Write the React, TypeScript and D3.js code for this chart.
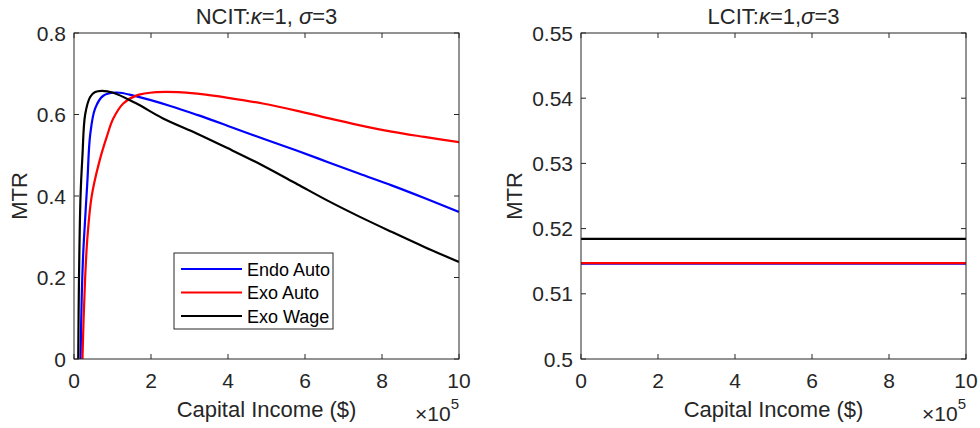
import React from 'react';
import * as d3 from 'd3';

// capital income in units of 1e5 dollars, MTR values
const xTicks = [0, 2, 4, 6, 8, 10];
const ncitTicks = [0, 0.2, 0.4, 0.6, 0.8];
const lcitTicks = [0.5, 0.51, 0.52, 0.53, 0.54, 0.55];

const seriesNames = ['Endo Auto', 'Exo Auto', 'Exo Wage'];
const seriesColors = ['#0000ff', '#ff0000', '#000000'];

const endoAutoNcit: [number, number][] = [
  [0.17, 0], [0.2, 0.15], [0.24, 0.26], [0.3, 0.36], [0.35, 0.44], [0.42, 0.55], [0.55, 0.615],
  [0.76, 0.646], [1.1, 0.654], [1.6, 0.645], [2.5, 0.621], [3.2, 0.599], [4.0, 0.572],
  [4.9, 0.541], [5.8, 0.511], [6.6, 0.483], [7.4, 0.455], [8.25, 0.426], [9.1, 0.395], [10, 0.361],
];
const exoAutoNcit: [number, number][] = [
  [0.22, 0], [0.25, 0.1], [0.29, 0.2], [0.35, 0.3], [0.46, 0.4], [0.66, 0.485],
  [0.85, 0.545], [1.02, 0.59], [1.28, 0.627], [1.63, 0.647], [2.15, 0.655], [2.7, 0.655],
  [3.2, 0.651], [4.0, 0.641], [4.9, 0.627], [5.8, 0.609], [6.6, 0.591], [7.4, 0.574],
  [8.25, 0.558], [9.1, 0.545], [10, 0.532],
];
const exoWageNcit: [number, number][] = [
  [0.11, 0], [0.13, 0.2], [0.17, 0.4], [0.22, 0.5], [0.29, 0.6], [0.42, 0.643], [0.55, 0.655],
  [0.72, 0.658], [1.0, 0.654], [1.6, 0.628], [2.3, 0.591], [3.2, 0.553], [4.0, 0.517],
  [4.9, 0.475], [5.8, 0.429], [6.6, 0.388], [7.4, 0.35], [8.25, 0.312], [9.1, 0.275], [10, 0.238],
];

const endoAutoLcit: [number, number][] = [[0, 0.51464], [10, 0.51464]];
const exoAutoLcit: [number, number][] = [[0, 0.51469], [10, 0.51469]];
const exoWageLcit: [number, number][] = [[0, 0.51843], [10, 0.51843]];

const font = "'Liberation Sans', Arial, Helvetica, sans-serif";
const axisColor = '#262626';

type PanelProps = {
  left: number;
  right: number;
  top: number;
  bottom: number;
  yDomain: [number, number];
  yTicks: number[];
  lines: [number, number][][];
  titleA: string;
  titleB: string;
  titleC: string;
  ylabelX: number;
  legend?: boolean;
};

const Panel = (p: PanelProps) => {
  const x = d3.scaleLinear().domain([0, 10]).range([p.left, p.right]);
  const y = d3.scaleLinear().domain(p.yDomain).range([p.bottom, p.top]);
  const line = d3
    .line<[number, number]>()
    .x((d) => x(d[0]))
    .y((d) => y(d[1]))
    .curve(d3.curveCatmullRom.alpha(0.5));
  const cx = (p.left + p.right) / 2;
  const cy = (p.top + p.bottom) / 2;
  const id = 'clip' + p.left;
  const tl = 5;

  return (
    <g fontFamily={font} fill={axisColor}>
      <defs>
        <clipPath id={id}>
          <rect x={p.left} y={p.top} width={p.right - p.left} height={p.bottom - p.top} />
        </clipPath>
      </defs>
      <g clipPath={`url(#${id})`}>
        {p.lines.map((d, i) => (
          <path key={i} d={line(d) || ''} fill="none" stroke={seriesColors[i]} strokeWidth={2.2} />
        ))}
      </g>
      <rect x={p.left} y={p.top} width={p.right - p.left} height={p.bottom - p.top}
        fill="none" stroke={axisColor} strokeWidth={1} />
      {xTicks.map((t) => (
        <g key={'x' + t}>
          <line x1={x(t)} x2={x(t)} y1={p.bottom} y2={p.bottom - tl} stroke={axisColor} />
          <line x1={x(t)} x2={x(t)} y1={p.top} y2={p.top + tl} stroke={axisColor} />
          <text x={x(t)} y={p.bottom + 29} textAnchor="middle" fontSize={21}>{t}</text>
        </g>
      ))}
      {p.yTicks.map((t) => (
        <g key={'y' + t}>
          <line x1={p.left} x2={p.left + tl} y1={y(t)} y2={y(t)} stroke={axisColor} />
          <line x1={p.right} x2={p.right - tl} y1={y(t)} y2={y(t)} stroke={axisColor} />
          <text x={p.left - 8} y={y(t) + 7.5} textAnchor="end" fontSize={21}>{String(t)}</text>
        </g>
      ))}
      <text x={cx} y={24} textAnchor="middle" fontSize={22}>
        {p.titleA}
        <tspan fontStyle="italic">κ</tspan>
        {p.titleB}
        <tspan fontStyle="italic">σ</tspan>
        {p.titleC}
      </text>
      <text x={cx} y={p.bottom + 58} textAnchor="middle" fontSize={22}>Capital Income ($)</text>
      <text x={p.right} y={p.bottom + 62} textAnchor="end" fontSize={21}>
        ×10<tspan fontSize={15} dy={-12}>5</tspan>
      </text>
      <text transform={`translate(${p.ylabelX},${cy}) rotate(-90)`} textAnchor="middle" fontSize={22}>MTR</text>
      {p.legend && (
        <g>
          <rect x={174} y={253} width={159} height={76} fill="#fff" stroke={axisColor} strokeWidth={1} />
          {seriesNames.map((n, i) => (
            <g key={n}>
              <line x1={181} x2={242} y1={269 + i * 23.5} y2={269 + i * 23.5}
                stroke={seriesColors[i]} strokeWidth={2.2} />
              <text x={247} y={275.5 + i * 23.5} fontSize={18} fill="#000">{n}</text>
            </g>
          ))}
        </g>
      )}
    </g>
  );
};

export default function App() {
  return (
    <svg width={980} height={428} style={{ position: 'absolute', left: 0, top: 0, background: '#fff' }}>
      <rect width={980} height={428} fill="#fff" />
      <Panel left={74} right={459} top={33} bottom={359} yDomain={[0, 0.8]} yTicks={ncitTicks}
        lines={[endoAutoNcit, exoAutoNcit, exoWageNcit]}
        titleA="NCIT:" titleB="=1, " titleC="=3" ylabelX={27} legend />
      <Panel left={581} right={966} top={33} bottom={359} yDomain={[0.5, 0.55]} yTicks={lcitTicks}
        lines={[endoAutoLcit, exoAutoLcit, exoWageLcit]}
        titleA="LCIT:" titleB="=1," titleC="=3" ylabelX={522} />
    </svg>
  );
}
